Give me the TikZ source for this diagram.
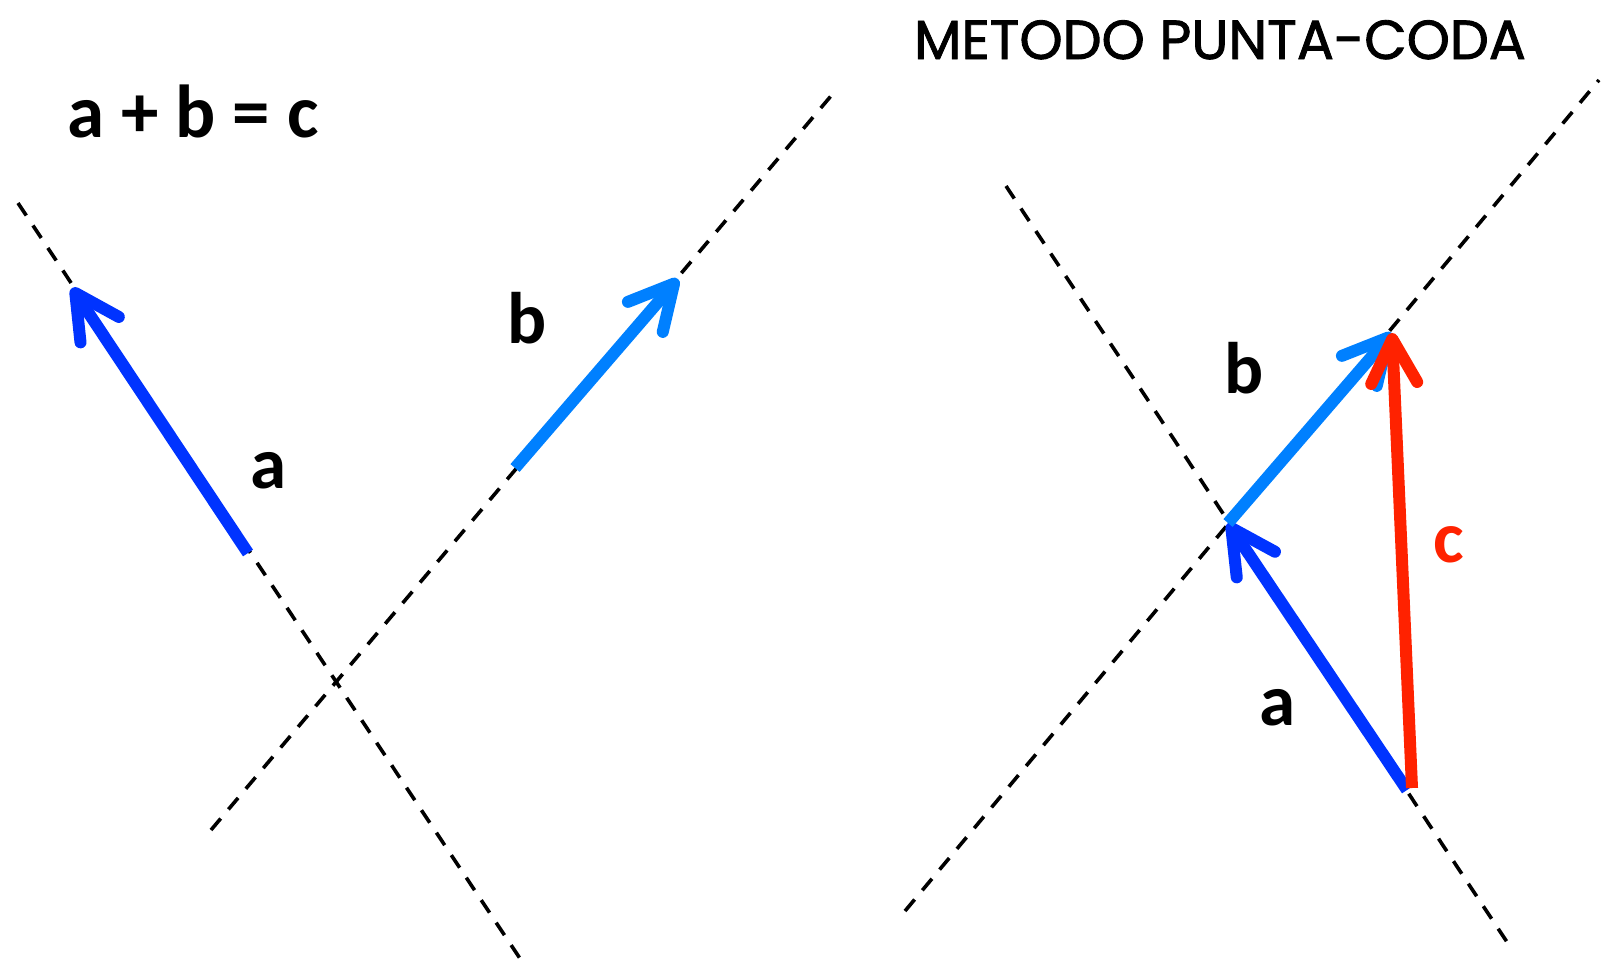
\documentclass[tikz,border=0pt]{standalone}
\usepackage{fontspec}
\setmainfont{Carlito}
\newfontfamily\titlefont{Poppins}[FakeBold=1.6]
\usetikzlibrary{arrows.meta}
\definecolor{vecA}{RGB}{0,51,255}
\definecolor{vecB}{RGB}{0,128,255}
\definecolor{vecC}{RGB}{255,34,0}
\tikzset{
  guide/.style={black, line width=3.6pt, dash pattern=on 15pt off 12pt},
  vec/.style={line width=12pt, line cap=butt,
    -{Straight Barb[length=44pt,width=46pt,line cap=round,line join=round]}},
  lbl/.style={font=\bfseries\fontsize{73}{73}\selectfont, anchor=base, inner sep=0pt},
}
\begin{document}
\begin{tikzpicture}[x=1pt,y=-1pt]
\useasboundingbox (0,0) rectangle (1602,962);
% left guides
\coordinate (la1) at (18,203);
\coordinate (la2) at (521,960);
\coordinate (lb1) at (211,830);
\coordinate (lb2) at (836,90);
\draw[guide] (la1) -- (la2);
\draw[guide] (lb1) -- (lb2);
% left vectors
\coordinate (aT) at (248,553);
\coordinate (aH) at (72,288);
\coordinate (bT) at (515,468);
\coordinate (bH) at (678,279);
\draw[vec, vecA] (aT) -- (aH);
\draw[vec, vecB] (bT) -- (bH);
% right guides
\coordinate (ra1) at (1006,186);
\coordinate (ra2) at (1509,945);
\coordinate (rb1) at (905,911);
\coordinate (rb2) at (1599,80);
\draw[guide] (ra1) -- (ra2);
\draw[guide] (rb1) -- (rb2);
% right vectors
\coordinate (raT) at (1407,790);
\coordinate (raH) at (1228,523);
\coordinate (rbH) at (1392,333);
\coordinate (rcT) at (1412,788);
\draw[vec, vecA] (raT) -- (raH);
\draw[vec, vecB] (raH) -- (rbH);
\draw[vec, vecC] (rcT) -- (rbH);
% labels
\node[lbl, font=\bfseries\fontsize{75}{75}\selectfont] (eq) at (193,137) {a + b = c};
\node[lbl] (la) at (269,488) {a};
\node[lbl] (lb) at (527,343) {b};
\node[lbl] (rb) at (1244,393) {b};
\node[lbl] (ra) at (1277,725) {a};
\node[lbl, vecC] (rc) at (1449,562) {c};
\node[anchor=base, inner sep=0pt, font=\titlefont\fontsize{55}{55}\selectfont] (title) at (1220,59) {METODO PUNTA-CODA};
\end{tikzpicture}
\end{document}
